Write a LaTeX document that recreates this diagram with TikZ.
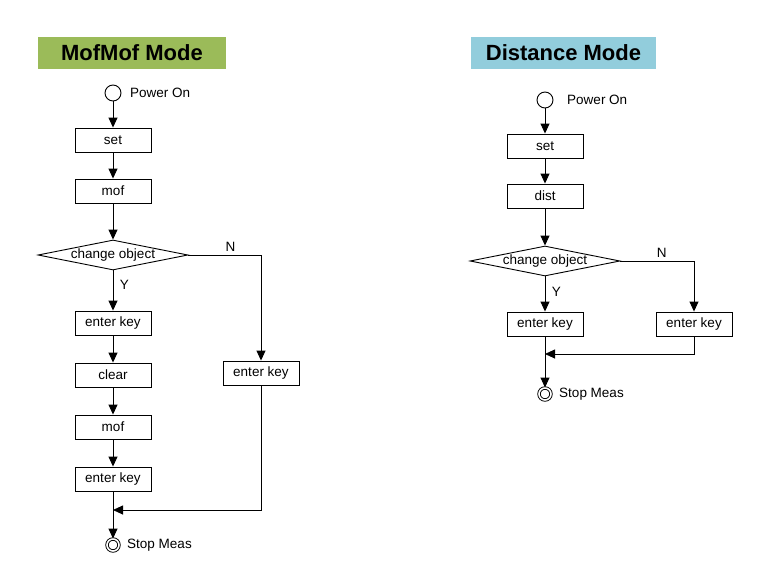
\documentclass[tikz,border=0pt]{standalone}
\usepackage{fontspec}
\setmainfont{Liberation Sans}
\usetikzlibrary{shapes.geometric,arrows.meta}
\definecolor{mofgreen}{RGB}{155,187,89}
\definecolor{distblue}{RGB}{146,205,220}
\tikzset{
  box/.style={draw, minimum width=76pt, minimum height=24pt, inner sep=0pt, font=\fontsize{13.5}{15}\selectfont},
  decision/.style={draw, diamond, aspect=5, minimum width=150pt, minimum height=30pt, inner sep=0pt, font=\fontsize{13.5}{15}\selectfont},
  startnode/.style={draw, circle, minimum size=16pt, inner sep=0pt},
  stopnode/.style={draw, circle, double, double distance=1.6pt, minimum size=12pt, inner sep=0pt},
  titlebox/.style={minimum width=188pt, minimum height=32pt, inner sep=0pt, font=\fontsize{22}{24}\selectfont\bfseries},
  lbl/.style={font=\fontsize{13.5}{15}\selectfont},
  flow/.style={->, >={Triangle[length=10pt,width=9pt]}}
}
\begin{document}
\begin{tikzpicture}[x=1pt, y=-1pt, line width=0.9pt]
  \useasboundingbox (0,0) rectangle (782,578);

  % Colonnes
  \def\xl{113}   % MofMof
  \def\xr{545}   % Distance

  % ==============================================
  % MofMof Mode
  % ==============================================
  \node[titlebox, fill=mofgreen] (titleL) at (132,53) {MofMof Mode};
  \node[startnode] (onL) at (\xl,93) {};
  \node[lbl, right=5pt] at (onL.east) {Power On};
  \node[box] (setL) at (\xl,140) {set};
  \node[box] (mofL) at (\xl,191) {mof};
  \node[decision] (chgL) at (\xl,255) {change object};
  \node[box] (ekL) at (\xl,323) {enter key};
  \node[box] (clrL) at (\xl,375) {clear};
  \node[box] (mof2L) at (\xl,427) {mof};
  \node[box] (ek2L) at (\xl,479) {enter key};
  \node[box] (ekNL) at (261,373) {enter key};
  \node[stopnode] (stopL) at (\xl,545) {};
  \node[lbl, right=4pt] at (stopL.east) {Stop Meas};
  \coordinate (joinL) at (\xl,510);

  \draw[flow] (onL) -- (setL);
  \draw[flow] (setL) -- (mofL);
  \draw[flow] (mofL) -- (chgL);
  \draw[flow] (chgL) -- node[lbl, right=3pt, pos=0.35] {Y} (ekL);
  \draw[flow] (ekL) -- (clrL);
  \draw[flow] (clrL) -- (mof2L);
  \draw[flow] (mof2L) -- (ek2L);
  \draw[flow] (chgL.east) -| node[lbl, above, pos=0.29] {N} (ekNL.north);
  \draw[flow] (ekNL.south) |- (joinL);
  \draw[flow] (ek2L) -- (stopL);

  % ==============================================
  % Distance Mode
  % ==============================================
  \node[titlebox, fill=distblue, minimum width=185pt] (titleR) at (563.5,53) {Distance Mode};
  \node[startnode] (onR) at (\xr,100) {};
  \node[lbl, right=10pt] at (onR.east) {Power On};
  \node[box] (setR) at (\xr,146) {set};
  \node[box] (distR) at (\xr,196) {dist};
  \node[decision] (chgR) at (\xr,261) {change object};
  \node[box] (ekR) at (\xr,324) {enter key};
  \node[box] (ekNR) at (694,324) {enter key};
  \node[stopnode] (stopR) at (\xr,394) {};
  \node[lbl, right=4pt] at (stopR.east) {Stop Meas};
  \coordinate (joinR) at (\xr,354);

  \draw[flow] (onR) -- (setR);
  \draw[flow] (setR) -- (distR);
  \draw[flow] (distR) -- (chgR);
  \draw[flow] (chgR) -- node[lbl, right=3pt, pos=0.45] {Y} (ekR);
  \draw[flow] (chgR.east) -| node[lbl, above, pos=0.28] {N} (ekNR.north);
  \draw[flow] (ekNR.south) |- (joinR);
  \draw[flow] (ekR) -- (stopR);
\end{tikzpicture}
\end{document}
